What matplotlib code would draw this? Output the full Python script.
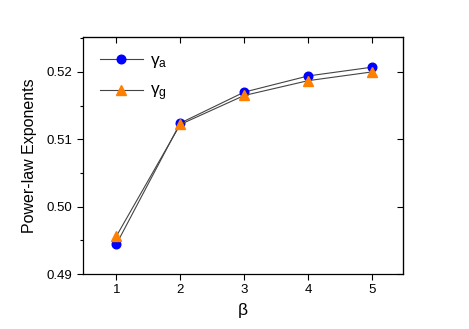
import matplotlib
matplotlib.use("Agg")
import matplotlib.pyplot as plt
from matplotlib.ticker import MultipleLocator

plt.rcParams['font.family'] = ['Liberation Sans', 'DejaVu Sans']
plt.rcParams['mathtext.fontset'] = 'custom'
plt.rcParams['mathtext.rm'] = 'Liberation Sans'
plt.rcParams['mathtext.it'] = 'Liberation Sans'

beta = [1, 2, 3, 4, 5]
gamma_a = [0.4944, 0.5124, 0.5170, 0.5194, 0.5207]
gamma_g = [0.4956, 0.5122, 0.5165, 0.5187, 0.5200]

fig = plt.figure(figsize=(4.69, 3.29), dpi=100)
ax = fig.add_axes([0.177, 0.167, 0.682, 0.721])

ax.plot(beta, gamma_a, color='#444444', lw=0.8, marker='o', ms=6.2,
        mfc='#0000ff', mec='#0000ff', label='γ$_\\mathrm{a}$')
ax.plot(beta, gamma_g, color='#444444', lw=0.8, marker='^', ms=6.8,
        mfc='#ff8000', mec='#ff8000', label='γ$_\\mathrm{g}$')

ax.set_xlim(0.48, 5.48)
ax.set_ylim(0.49, 0.5252)
ax.set_xticks(beta)
ax.set_yticks([0.49, 0.50, 0.51, 0.52])
ax.set_yticklabels(['0.49', '0.50', '0.51', '0.52'])
ax.yaxis.set_minor_locator(MultipleLocator(0.005))

ax.tick_params(which='both', direction='out', top=False, right=False, labelsize=9.5)
ax.tick_params(which='major', length=4, width=0.8)
ax.tick_params(which='minor', length=2.5, width=0.8)
# mirrored inward ticks on top and right
sec_x = ax.secondary_xaxis('top')
sec_x.set_xticks(beta)
sec_x.tick_params(direction='in', length=4, width=0.8, labeltop=False)
sec_y = ax.secondary_yaxis('right')
sec_y.set_yticks([0.49, 0.50, 0.51, 0.52])
sec_y.tick_params(direction='in', length=4, width=0.8, labelright=False)

for s in ax.spines.values():
    s.set_linewidth(0.9)

ax.set_xlabel('β', fontsize=12.5, labelpad=5)
ax.set_ylabel('Power-law Exponents', fontsize=11.5, labelpad=7)

ax.legend(loc='upper left', frameon=False, fontsize=12.5, handlelength=2.5,
          labelspacing=0.75, borderaxespad=0.55, handletextpad=0.4)

fig.savefig('out.png', dpi=100)
